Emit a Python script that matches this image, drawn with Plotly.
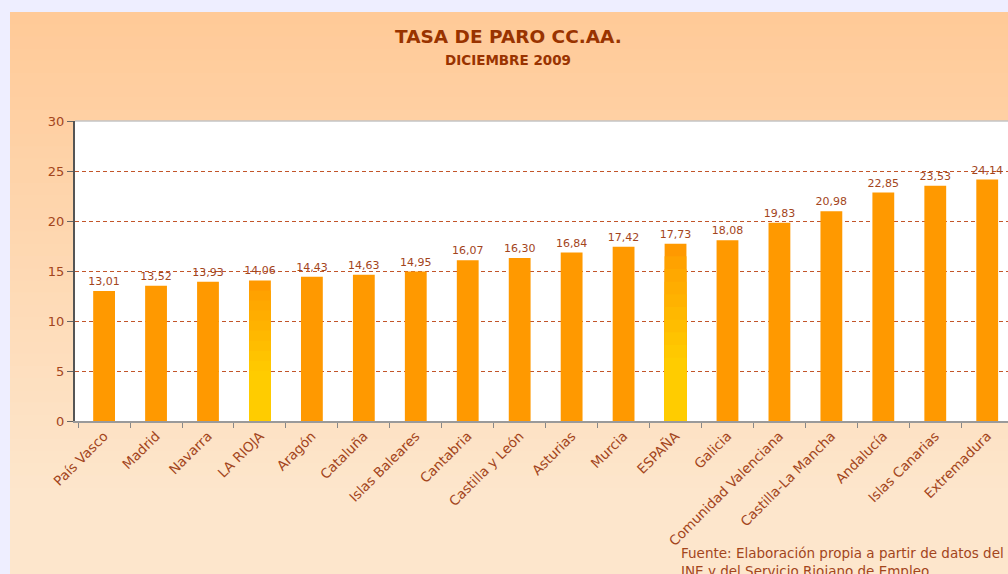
import plotly.graph_objects as go

categories = ["País Vasco", "Madrid", "Navarra", "LA RIOJA", "Aragón", "Cataluña",
              "Islas Baleares", "Cantabria", "Castilla y León", "Asturias", "Murcia",
              "ESPAÑA", "Galicia", "Comunidad Valenciana", "Castilla-La Mancha",
              "Andalucía", "Islas Canarias", "Extremadura"]
tasa_paro = [13.01, 13.52, 13.93, 14.06, 14.43, 14.63, 14.95, 16.07, 16.30, 16.84,
             17.42, 17.73, 18.08, 19.83, 20.98, 22.85, 23.53, 24.14]
highlighted = ["LA RIOJA", "ESPAÑA"]
y_ticks = [0, 5, 10, 15, 20, 25, 30]

BROWN = "#a3451c"
ORANGE = "#ff9900"
FONT = "DejaVu Sans, Verdana, sans-serif"

W, H = 1008, 574
ML, MR, MT, MB = 75, 0, 121, 153
PW, PH = W - ML - MR, H - MT - MB


def px_to_paper(xp, yp):
    return (xp - ML) / PW, (H - MB - yp) / PH


def hex2rgb(h):
    h = h.lstrip("#")
    return tuple(int(h[i:i + 2], 16) for i in (0, 2, 4))


def lerp(c1, c2, t):
    a, b = hex2rgb(c1), hex2rgb(c2)
    return "rgb(%d,%d,%d)" % tuple(round(a[i] + (b[i] - a[i]) * t) for i in range(3))


fig = go.Figure()

# main bars
fig.add_trace(go.Bar(
    x=categories, y=tasa_paro, width=0.42,
    marker=dict(color=ORANGE, line=dict(width=0)),
    texttemplate="%{y:.2f}", textposition="outside", constraintext="none",
    textfont=dict(color=BROWN, size=11, family=FONT),
    cliponaxis=False, hoverinfo="x+y",
))

# gradient overlay for highlighted bars (orange top to yellow bottom)
hx = [c for c in categories if c in highlighted]
hy = [v for c, v in zip(categories, tasa_paro) if c in highlighted]
steps = 14
for k in range(1, steps):
    f = 1 - k / steps
    fig.add_trace(go.Bar(
        x=hx, y=[v * f for v in hy], width=0.42,
        marker=dict(color=lerp("#ff9d00", "#ffcc00", min(1, (k / steps) * 1.6)), line=dict(width=0)),
        hoverinfo="skip", showlegend=False,
    ))

# background panel with vertical gradient
shapes = []
top_px, bot_px, flat_px = 12, 574, 500
n = 40
for i in range(n):
    y0p = top_px + (flat_px - top_px) * i / n
    y1p = top_px + (flat_px - top_px) * (i + 1) / n + 0.8
    x0, yy0 = px_to_paper(10, y0p)
    x1, yy1 = px_to_paper(1020, y1p)
    shapes.append(dict(type="rect", xref="paper", yref="paper", x0=x0, x1=x1, y0=yy1, y1=yy0,
                       fillcolor=lerp("#ffca98", "#fde6cc", i / (n - 1)), line=dict(width=0),
                       layer="below"))
x0, yy0 = px_to_paper(10, flat_px)
x1, yy1 = px_to_paper(1020, bot_px + 5)
shapes.append(dict(type="rect", xref="paper", yref="paper", x0=x0, x1=x1, y0=yy1, y1=yy0,
                   fillcolor="#fde6cc", line=dict(width=0), layer="below"))
# white plot area
shapes.append(dict(type="rect", xref="x domain", yref="y domain", x0=0, x1=1, y0=0, y1=1,
                   fillcolor="white", line=dict(width=0), layer="below"))
# thin gray top edge of plot area
shapes.append(dict(type="line", xref="x domain", yref="y domain", x0=0, x1=1, y0=1, y1=1,
                   line=dict(color="#c4c4c4", width=1.5), layer="above"))

annotations = [
    dict(text="<b>TASA DE PARO CC.AA.</b>", xref="paper", yref="paper",
         x=px_to_paper(508, 0)[0], y=px_to_paper(0, 37)[1], showarrow=False,
         font=dict(size=18.5, color="#993300", family=FONT),
         xanchor="center", yanchor="middle"),
    dict(text="<b>DICIEMBRE 2009</b>", xref="paper", yref="paper",
         x=px_to_paper(508, 0)[0], y=px_to_paper(0, 60)[1], showarrow=False,
         font=dict(size=13.5, color="#993300", family=FONT),
         xanchor="center", yanchor="middle"),
    dict(text="Fuente: Elaboración propia a partir de datos del<br>INE y del Servicio Riojano de Empleo",
         xref="paper", yref="paper", x=px_to_paper(679, 0)[0], y=px_to_paper(0, 543)[1],
         showarrow=False, align="left", xanchor="left", yanchor="top",
         font=dict(size=13.5, color=BROWN, family=FONT)),
]

fig.update_layout(
    width=W, height=H,
    margin=dict(l=ML, r=MR, t=MT, b=MB, pad=0),
    paper_bgcolor="#eeeeff", plot_bgcolor="rgba(0,0,0,0)",
    barmode="overlay", bargap=0.58, showlegend=False,
    separators=",.",
    shapes=shapes, annotations=annotations,
    font=dict(family=FONT, color=BROWN),
    xaxis=dict(
        categoryorder="array", categoryarray=categories,
        range=[-0.56, 17.4], tickangle=-45,
        tickfont=dict(size=13.5, color=BROWN, family=FONT),
        showline=True, linecolor="#9a9a9a", linewidth=2,
        ticks="outside", tickson="boundaries", ticklen=5, tickcolor="#888888",
        showgrid=False, fixedrange=True,
    ),
    yaxis=dict(
        range=[0, 30], tickvals=y_ticks,
        tickfont=dict(size=13, color=BROWN, family=FONT),
        showline=True, linecolor="#555555", linewidth=2,
        ticks="outside", ticklen=6, tickcolor="#666666",
        showgrid=True, gridcolor="#c2552a", griddash="4px,3px", gridwidth=1,
        zeroline=False, fixedrange=True,
    ),
)

fig.write_html("out.html", config={"displayModeBar": False},
               post_script="document.body.style.margin='0';document.body.style.background='#eeeeff';")
